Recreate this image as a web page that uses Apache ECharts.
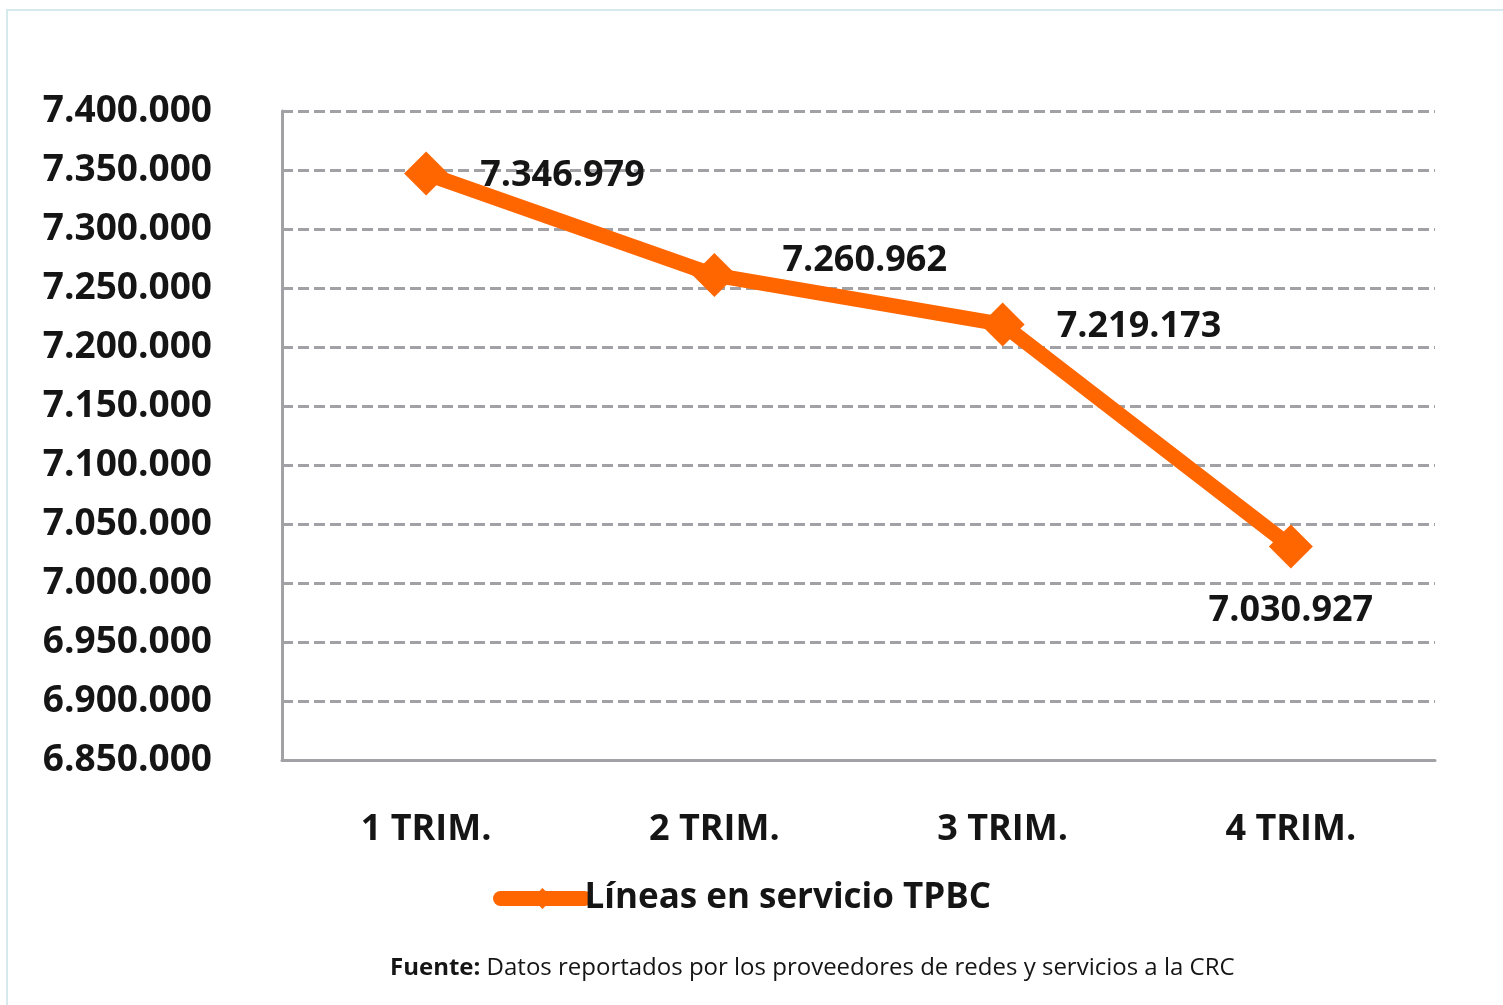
<!DOCTYPE html>
<html>
<head>
<meta charset="utf-8">
<script src="https://cdn.jsdelivr.net/npm/echarts@6/dist/echarts.min.js"></script>
<style>
  html, body { margin: 0; padding: 0; background: #fff; }
  #chart { width: 1503px; height: 1005px; }
</style>
</head>
<body>
<div id="chart"></div>
<script>
const categories = ['1 TRIM.', '2 TRIM.', '3 TRIM.', '4 TRIM.']
const lineasTPBC = [7346979, 7260962, 7219173, 7030927]
const seriesName = 'Líneas en servicio TPBC'
const yMin = 6850000
const yMax = 7400000
const yStep = 50000

const FONT = '"Open Sans", sans-serif'
const ORANGE = '#FF6600'
const GRID_GREY = '#A2A2A6'
const TEXT = '#151515'

// miles con punto
const fmt = v => String(Math.round(v)).replace(/\B(?=(\d{3})+(?!\d))/g, '.')

const chart = echarts.init(document.getElementById('chart'))

const option = {
  backgroundColor: '#fff',
  animation: false,
  grid: { left: 282, right: 68, top: 111, bottom: 245, containLabel: false },
  legend: {
    left: 488,
    top: 876,
    itemWidth: 84,
    itemHeight: 26,
    itemGap: 0,
    lineStyle: { width: 15, cap: 'round' },
    textStyle: { fontFamily: FONT, fontSize: 35, fontWeight: 'bold', color: TEXT, padding: [0, 0, 0, -5] },
    data: [seriesName]
  },
  xAxis: {
    type: 'category',
    data: categories,
    boundaryGap: true,
    axisLine: { lineStyle: { color: GRID_GREY, width: 3 } },
    axisTick: { show: false },
    axisLabel: { margin: 52, fontFamily: FONT, fontSize: 36, fontWeight: 'bold', color: TEXT }
  },
  yAxis: {
    type: 'value',
    min: yMin,
    max: yMax,
    interval: yStep,
    axisLine: { show: true, lineStyle: { color: GRID_GREY, width: 3 } },
    axisTick: { show: false },
    axisLabel: {
      margin: 70,
      fontFamily: FONT,
      fontSize: 37,
      fontWeight: 'bold',
      color: TEXT,
      formatter: fmt
    },
    splitLine: { lineStyle: { color: GRID_GREY, width: 3, type: [11, 5] } }
  },
  series: [{
    name: seriesName,
    type: 'line',
    data: lineasTPBC.map((v, i) => ({
      value: v,
      label: i === lineasTPBC.length - 1
        ? { position: 'bottom', distance: 24 }
        : { position: 'right', distance: i === 1 ? 46 : 32, offset: [0, i === 1 ? -14 : 2] }
    })),
    symbol: 'diamond',
    symbolSize: 44,
    lineStyle: { color: ORANGE, width: 15 },
    itemStyle: { color: ORANGE },
    label: {
      show: true,
      fontFamily: FONT,
      fontSize: 36,
      fontWeight: 'bold',
      color: TEXT,
      formatter: p => fmt(p.value)
    }
  }],
  graphic: [
    {
      type: 'rect',
      silent: true,
      shape: { x: 7, y: 10, width: 1510, height: 1010 },
      style: { fill: 'none', stroke: '#D6E9ED', lineWidth: 2 }
    },
    {
      type: 'text',
      left: 390,
      top: 956,
      style: {
        text: '{b|Fuente:} Datos reportados por los proveedores de redes y servicios a la CRC',
        fontFamily: FONT,
        fontSize: 24,
        fill: TEXT,
        rich: {
          b: { fontFamily: FONT, fontSize: 24, fontWeight: 'bold', fill: TEXT }
        }
      }
    }
  ]
}

chart.setOption(option)
</script>
</body>
</html>
